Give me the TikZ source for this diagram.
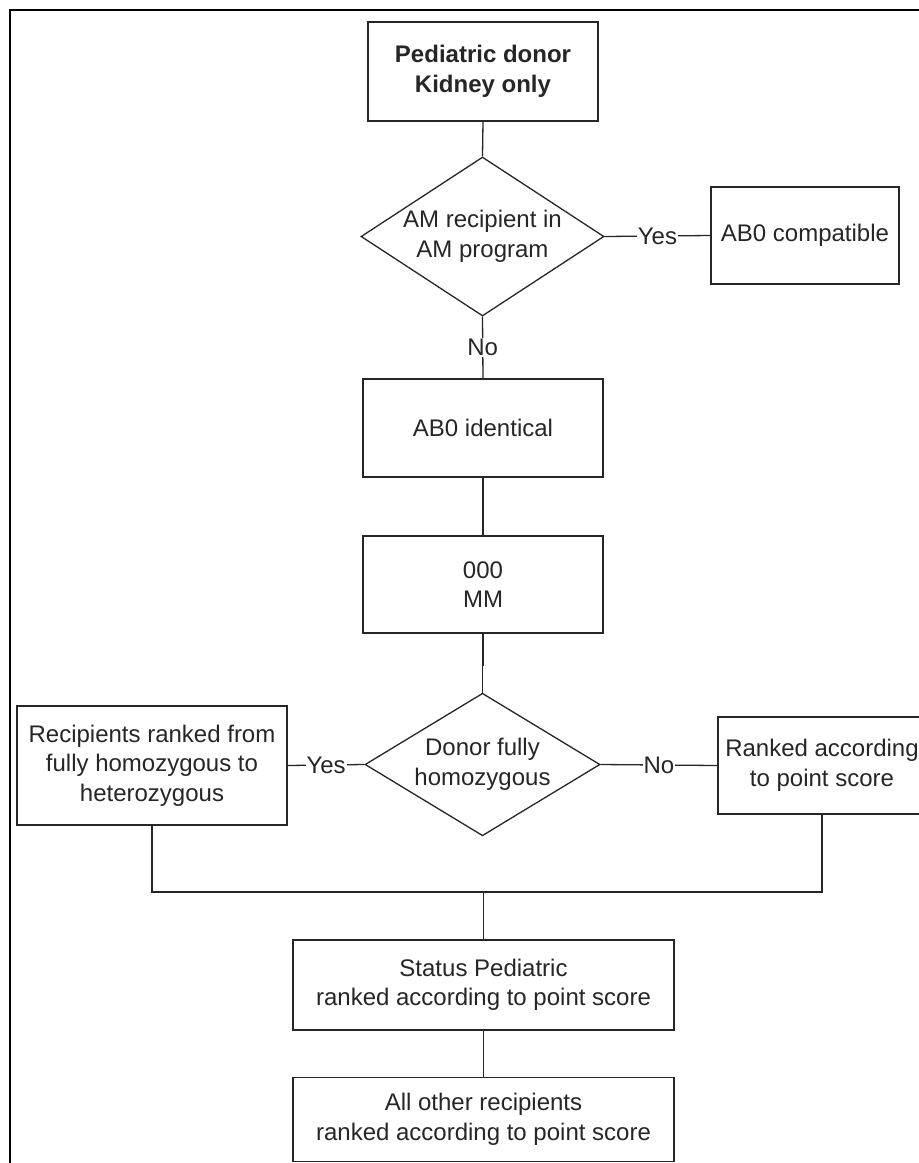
\documentclass[tikz,border=0pt]{standalone}
\usepackage{fontspec}
\setmainfont{Liberation Sans}
\usetikzlibrary{shapes.geometric}
\begin{document}
\begin{tikzpicture}[x=1pt,y=-1pt,
  every node/.style={font=\fontsize{24}{29.5}\selectfont, align=center, text=black!85},
  box/.style={draw=black!85, line width=1.6pt, rectangle, inner sep=0pt, fill=white},
  dec/.style={draw=black!85, line width=1.3pt, shape=diamond, inner sep=0pt, aspect=1.5, fill=white},
  conn/.style={draw=black!85, line width=1.3pt},
  lab/.style={fill=white, inner sep=1pt}
]
\useasboundingbox (0,0) rectangle (919,1163);
\fill[white] (0,0) rectangle (919,1163);
% frame
\draw[line width=2.8pt, black] (10,1175) -- (10,10) -- (935,10);

% nodes
\node[box, minimum width=230pt, minimum height=99pt, font=\fontsize{24}{29.5}\selectfont\bfseries] (start) at (483,71.5) {Pediatric donor\\Kidney only};
\node[dec, minimum width=243pt, minimum height=159pt] (d1) at (482.5,236.5) {AM recipient in\\AM program};
\node[box, minimum width=188pt, minimum height=97pt] (comp) at (805,235.5) {AB0 compatible};
\node[box, minimum width=240pt, minimum height=98pt] (ident) at (483,428) {AB0 identical};
\node[box, minimum width=240pt, minimum height=97pt] (mm) at (483,584.5) {000\\MM};
\node[dec, minimum width=235pt, minimum height=139pt] (d2) at (482.5,764.5) {Donor fully\\homozygous};
\node[box, minimum width=270pt, minimum height=119pt] (left) at (152,765.5) {Recipients ranked from\\fully homozygous to\\heterozygous};
\node[box, minimum width=208pt, minimum height=97pt] (right) at (822,765.5) {Ranked according\\to point score};
\node[box, minimum width=381pt, minimum height=90pt] (status) at (483.5,985) {Status Pediatric\\ranked according to point score};
\node[box, minimum width=381pt, minimum height=84pt] (other) at (483.5,1119.5) {All other recipients\\ranked according to point score};
\coordinate (join) at (483.5,892);

% connectors
\draw[conn] (start.south) -- (d1.north);
\draw[conn] (d1.east) -- node[lab] (yes1) {Yes} (comp.west);
\draw[conn] (d1.south) -- node[lab] (no1) {No} (ident.north);
\draw[conn] (ident.south) -- (mm.north);
\draw[conn] (mm.south) -- ++(0,32) -| (d2.north);
\draw[conn] (left.east) -- node[lab] (yes2) {Yes} (d2.west);
\draw[conn] (d2.east) -- node[lab] (no2) {No} (right.west);
\draw[conn] (left.south) |- (join) -| (right.south);
\draw[conn] (join) -- (status.north);
\draw[conn] (status.south) -- (other.north);
\end{tikzpicture}
\end{document}
